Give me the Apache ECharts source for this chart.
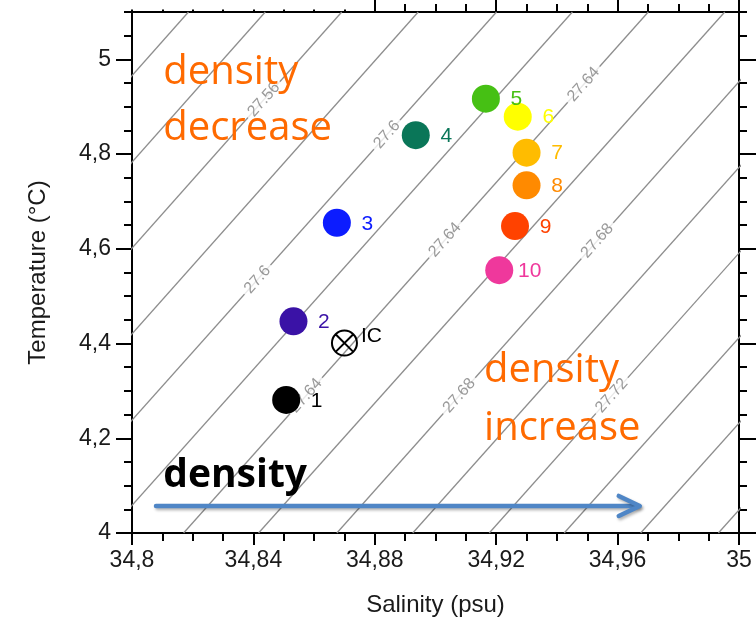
<!DOCTYPE html>
<html><head><meta charset="utf-8">
<script src="https://cdn.jsdelivr.net/npm/echarts@6/dist/echarts.min.js"></script>
<style>html,body{margin:0;padding:0;background:#fff}#main{width:756px;height:632px}</style>
</head><body><div id="main"></div>
<script>
// ---- stations ----
const stationNames = ['1','2','3','4','5','6','7','8','9','10'];
const stationSalinity = [34.8508, 34.8532, 34.8675, 34.8935, 34.9166, 34.9271, 34.9300, 34.9300, 34.9262, 34.9210];
const stationTemperature = [4.281, 4.447, 4.655, 4.840, 4.917, 4.879, 4.803, 4.734, 4.648, 4.555];
const stationColors = ['#000000','#3a12a6','#0c1cff','#0a7658','#46c014','#ffff00','#ffbc00','#ff8a00','#ff4200','#ef389c'];
const icNames = ['IC'];
const icSalinity = [34.870];
const icTemperature = [4.401];

// ---- isopycnals: salinity where each line crosses T=4 and T=5.1 ----
const isoLevels   = [27.52, 27.54, 27.56, 27.58, 27.60, 27.62, 27.64, 27.66, 27.68, 27.70, 27.72, 27.74, 27.76, 27.78];
const isoSalAtT4  = [34.6664, 34.6915, 34.7166, 34.7417, 34.7668, 34.7919, 34.8170, 34.8417, 34.8675, 34.8925, 34.9177, 34.9424, 34.9676, 34.9932];
const isoSalAtT51 = [34.8186, 34.8439, 34.8691, 34.8943, 34.9201, 34.9451, 34.9701, 34.9953, 35.0205, 35.0457, 35.0709, 35.0961, 35.1213, 35.1465];
const isoTemps = [4, 5.1];

// ---- contour labels ----
const isoLabelLevels = [27.56, 27.6, 27.6, 27.64, 27.64, 27.64, 27.68, 27.68, 27.72];
const isoLabelT      = [4.915, 4.841, 4.535, 4.947, 4.619, 4.290, 4.617, 4.290, 4.290];

// ---- axes ----
const xTicks = [34.8, 34.84, 34.88, 34.92, 34.96, 35];
const yTicks = [4, 4.2, 4.4, 4.6, 4.8, 5];
const xRange = [34.8, 35];
const yRange = [4, 5.1];

// ---- annotations ----
const noteTexts = ['density', 'decrease', 'density', 'increase', 'density'];
const noteSal   = [34.8103, 34.8103, 34.9160, 34.9160, 34.8103];
const noteTemp  = [4.971, 4.8548, 4.3425, 4.2205, 4.1216];
const arrowSal  = [34.8079, 34.9673];
const arrowTemp = [4.0571, 4.0571];

const FONT = 'Liberation Sans';
const fmt = v => String(Math.round(v * 100) / 100).replace('.', ',');

const chart = echarts.init(document.getElementById('main'), null, {renderer: 'canvas'});

function axisBase(extra) {
  return Object.assign({
    type: 'value', gridIndex: 0, scale: true,
    splitLine: {show: false},
    axisLine: {show: true, onZero: false, lineStyle: {color: '#000', width: 2}},
    axisLabel: {show: false},
    axisTick: {show: true, inside: false, lineStyle: {color: '#000', width: 2}}
  }, extra);
}

const xAxes = [
  axisBase({position: 'bottom', min: xRange[0], max: xRange[1], interval: 0.04,
    axisTick: {show: true, inside: false, length: 12, customValues: xTicks, lineStyle: {color: '#000', width: 2}},
    axisLabel: {show: true, customValues: xTicks, formatter: fmt, fontSize: 23, fontFamily: FONT, color: '#1a1a1a', margin: 16},
    name: 'Salinity (psu)', nameLocation: 'middle', nameGap: 60,
    nameTextStyle: {fontSize: 24, fontFamily: FONT, color: '#1a1a1a'}}),
  axisBase({position: 'bottom', min: xRange[0], max: xRange[1], interval: 0.01,
    axisLine: {show: false}, axisTick: {show: true, length: 8, lineStyle: {color: '#000', width: 2}}}),
  axisBase({position: 'top', min: xRange[0], max: xRange[1], interval: 0.04,
    axisTick: {show: true, length: 12, customValues: xTicks, lineStyle: {color: '#000', width: 2}}}),
  axisBase({position: 'top', min: xRange[0], max: xRange[1], interval: 0.01,
    axisLine: {show: false}, axisTick: {show: true, length: 8, lineStyle: {color: '#000', width: 2}}})
];
const yAxes = [
  axisBase({position: 'left', min: yRange[0], max: yRange[1], interval: 0.2,
    axisTick: {show: true, length: 16, customValues: yTicks, lineStyle: {color: '#000', width: 2}},
    axisLabel: {show: true, customValues: yTicks, formatter: fmt, fontSize: 23, fontFamily: FONT, color: '#1a1a1a', margin: 21},
    name: 'Temperature (°C)', nameLocation: 'middle', nameGap: 82,
    nameTextStyle: {fontSize: 24, fontFamily: FONT, color: '#1a1a1a'}}),
  axisBase({position: 'left', min: yRange[0], max: yRange[1], interval: 0.05,
    axisLine: {show: false}, axisTick: {show: true, length: 8, lineStyle: {color: '#000', width: 2}}}),
  axisBase({position: 'right', min: yRange[0], max: yRange[1], interval: 0.2,
    axisTick: {show: true, length: 18, customValues: yTicks, lineStyle: {color: '#000', width: 2}}}),
  axisBase({position: 'right', min: yRange[0], max: yRange[1], interval: 0.05,
    axisLine: {show: false}, axisTick: {show: true, length: 8, lineStyle: {color: '#000', width: 2}}})
];

const series = [];
isoLevels.forEach((lv, j) => {
  series.push({
    type: 'line', name: 'sigma ' + lv, silent: true, clip: true, z: 1,
    symbol: 'none', animation: false,
    lineStyle: {color: '#8e8e8e', width: 1.3},
    data: [[isoSalAtT4[j], isoTemps[0]], [isoSalAtT51[j], isoTemps[1]]]
  });
});

const labelData = isoLabelLevels.map((lv, i) => {
  const j = isoLevels.findIndex(v => Math.abs(v - lv) < 1e-6);
  const t = isoLabelT[i];
  const s = isoSalAtT4[j] + (t - isoTemps[0]) / (isoTemps[1] - isoTemps[0]) * (isoSalAtT51[j] - isoSalAtT4[j]);
  return [s, t, String(lv)];
});
series.push({
  type: 'scatter', silent: true, z: 2, animation: false,
  symbolSize: 1, itemStyle: {color: 'rgba(0,0,0,0)'},
  label: {show: true, position: 'inside', formatter: p => p.data[2], rotate: 48.4,
    color: '#808080', fontSize: 16, fontFamily: FONT, backgroundColor: '#fff', padding: [0, 4]},
  data: labelData
});

series.push({
  type: 'scatter', z: 5, animation: false, symbolSize: 28,
  itemStyle: {opacity: 1},
  label: {show: true, position: 'inside', offset: [30.5, 1], align: 'center', verticalAlign: 'middle',
    formatter: '{b}', fontSize: 21, fontFamily: FONT},
  emphasis: {disabled: true},
  data: stationNames.map((n, i) => ({
    name: n, value: [stationSalinity[i], stationTemperature[i]],
    itemStyle: {color: stationColors[i], opacity: 1}, label: {color: stationColors[i]}
  }))
});

series.push({
  type: 'scatter', z: 5, animation: false, symbolSize: 25,
  symbol: 'path://M1,12A11,11,0,1,1,23,12A11,11,0,1,1,1,12ZM4.22,4.22L19.78,19.78M19.78,4.22L4.22,19.78',
  itemStyle: {color: 'rgba(0,0,0,0)', borderColor: '#000', borderWidth: 2, opacity: 1},
  emphasis: {disabled: true},
  label: {show: true, position: 'right', distance: 3, offset: [0, -7], formatter: '{b}', fontSize: 21, fontFamily: FONT, color: '#000'},
  data: icNames.map((n, i) => ({name: n, value: [icSalinity[i], icTemperature[i]]}))
});

chart.setOption({
  animation: false,
  backgroundColor: '#fff',
  grid: {left: 132, right: 17, top: 12, bottom: 99, containLabel: false},
  xAxis: xAxes,
  yAxis: yAxes,
  series: series
});

const px = (s, t) => chart.convertToPixel({gridIndex: 0}, [s, t]);
const noteStyles = [
  {fill: '#ff6a00', fontSize: 40, fontFamily: 'Open Sans', fontWeight: 'normal'},
  {fill: '#ff6a00', fontSize: 40, fontFamily: 'Open Sans', fontWeight: 'normal'},
  {fill: '#ff6a00', fontSize: 40, fontFamily: 'Open Sans', fontWeight: 'normal'},
  {fill: '#ff6a00', fontSize: 40, fontFamily: 'Open Sans', fontWeight: 'normal'},
  {fill: '#000000', fontSize: 39, fontFamily: 'Open Sans', fontWeight: 'bold'}
];
const graphics = noteTexts.map((txt, i) => {
  const p = px(noteSal[i], noteTemp[i]);
  return {type: 'text', x: p[0], y: p[1], z: 100,
    style: Object.assign({text: txt, align: 'left', verticalAlign: 'middle'}, noteStyles[i])};
});
const a0 = px(arrowSal[0], arrowTemp[0]);
const a1 = px(arrowSal[1], arrowTemp[1]);
const arrowStyle = {stroke: '#4f86c6', lineWidth: 4.5, lineCap: 'round', lineJoin: 'round', fill: null,
  shadowBlur: 3, shadowColor: 'rgba(0,0,0,0.3)', shadowOffsetX: 1.5, shadowOffsetY: 2};
graphics.push({type: 'line', z: 100, shape: {x1: a0[0], y1: a0[1], x2: a1[0] - 2, y2: a1[1]}, style: arrowStyle});
graphics.push({type: 'polyline', z: 100, shape: {points: [[a1[0] - 21, a1[1] - 10], [a1[0], a1[1]], [a1[0] - 21, a1[1] + 10]]}, style: arrowStyle});
// white strip hiding the top ticks in the upper-left part
const m1 = px(xTicks[2], yRange[1]);
graphics.push({type: 'rect', z: 100, shape: {x: 100, y: 0, width: m1[0] - 1.5 - 100, height: m1[1] - 2.5}, style: {fill: '#fff'}});
chart.setOption({graphic: graphics});
</script>
</body></html>
